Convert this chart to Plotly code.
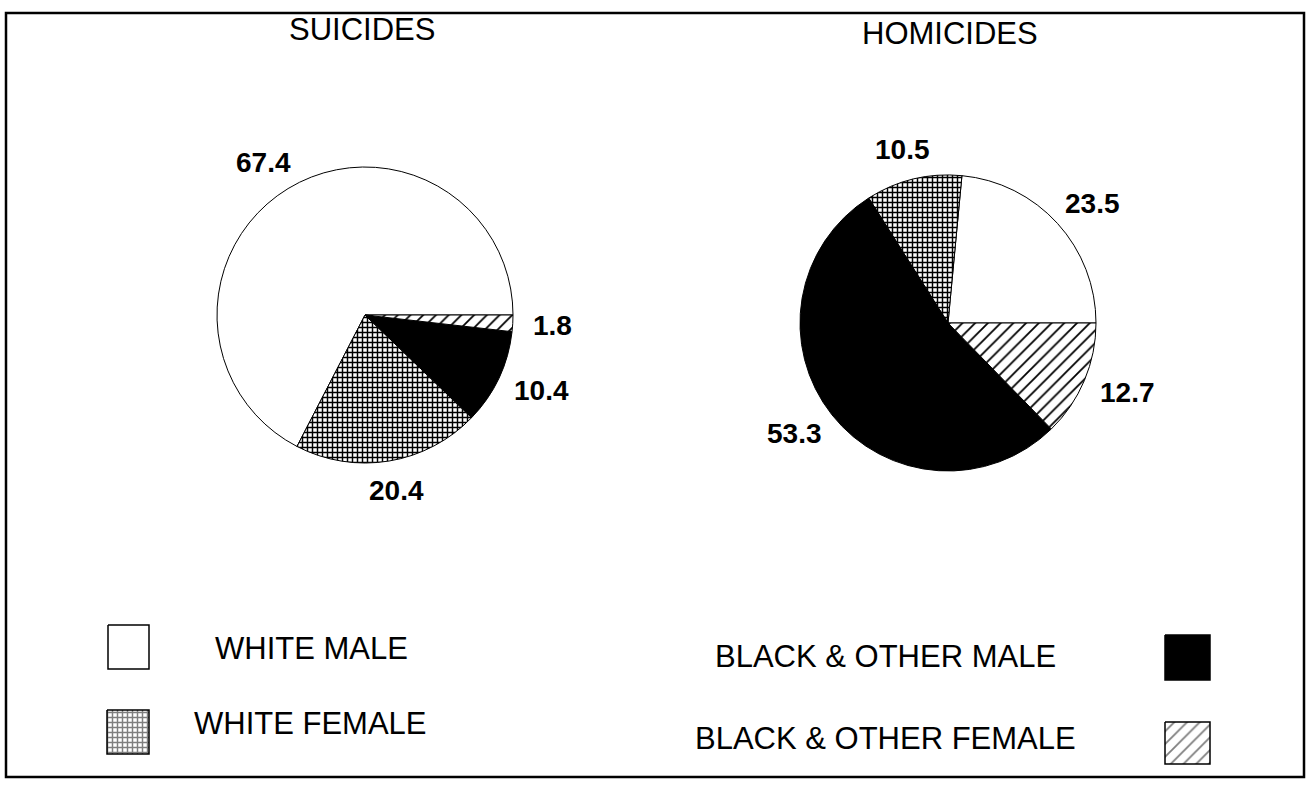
import math
import plotly.graph_objects as go

# ---------------- data ----------------
categories = ["WHITE MALE", "WHITE FEMALE", "BLACK & OTHER MALE", "BLACK & OTHER FEMALE"]
suicides = [67.4, 20.4, 10.4, 1.8]
homicides = [23.5, 10.5, 53.3, 12.7]
panel_titles = ["SUICIDES", "HOMICIDES"]

# ---------------- styles ----------------
W, H = 1309, 788
slice_fill = ["white", "white", "black", "white"]
slice_pattern = ["", "+", "", "/"]
FONT = "Liberation Sans, Arial, Helvetica, sans-serif"

pie_centers = [(365, 315), (948, 323)]
pie_radius = 148
title_pos = [(362, 29), (950, 33)]


def px_x(x):
    return x / W


def px_y(y):
    return 1 - y / H


fig = go.Figure()

# pies: first slice starts at 3 o'clock and slices run counterclockwise
for values, (cx, cy), title, (tx, ty) in zip([suicides, homicides], pie_centers, panel_titles, title_pos):
    total = sum(values)
    # plotly's counterclockwise pies end the first slice at `rotation`,
    # so offset by the first slice's angle to make it start at 3 o'clock
    rot = 90 - 360 * values[0] / total
    if rot < -180:
        rot += 360
    fig.add_trace(go.Pie(
        labels=categories,
        values=values,
        sort=False,
        direction="counterclockwise",
        rotation=rot,
        textinfo="none",
        hoverinfo="label+value",
        showlegend=False,
        marker=dict(
            colors=slice_fill,
            line=dict(color="black", width=1),
            pattern=dict(shape=slice_pattern, fgcolor="black", bgcolor="white",
                         size=[6, 5, 6, 9], solidity=[0.3, 0.5, 0.3, 0.2]),
        ),
        domain=dict(x=[px_x(cx - pie_radius), px_x(cx + pie_radius)],
                    y=[px_y(cy + pie_radius), px_y(cy - pie_radius)]),
    ))
    fig.add_annotation(x=px_x(tx), y=px_y(ty), xref="paper", yref="paper",
                       text=title, showarrow=False, xanchor="center", yanchor="middle",
                       font=dict(family=FONT, size=31, color="black"))

    # value labels outside each slice, placed from the slice mid-angle
    cum = 0.0
    label_size = 28
    gap = 20
    for v in values:
        mid = 2 * math.pi * (cum + v / 2) / total
        cum += v
        ux, uy = math.cos(mid), math.sin(mid)
        txt = f"{v:.1f}"
        hw = 0.5 * label_size * (0.556 * (len(txt) - 1) + 0.278)
        hh = 10
        lx = cx + ux * (pie_radius + gap) + ux * hw
        ly = cy - uy * (pie_radius + gap) - uy * hh
        fig.add_annotation(x=px_x(lx), y=px_y(ly), xref="paper", yref="paper",
                           text=f"<b>{txt}</b>", showarrow=False,
                           xanchor="center", yanchor="middle",
                           font=dict(family=FONT, size=label_size, color="black"))

# legend swatches (drawn in a hidden pixel-space axis so they can carry fill patterns)
legend_boxes = [
    # (x0, x1, y0, y1, fill, pattern)
    (108, 149, 625, 669, "white", ""),
    (107, 149, 710, 754, "white", "+"),
    (1165, 1210, 635, 680, "black", ""),
    (1165, 1210, 722, 764, "white", "/"),
]
legend_text = [
    (311, 648),
    (310, 723),
    (885, 656),
    (885, 738),
]
for (x0, x1, y0, y1, fill, pat), (tx, ty), name in zip(legend_boxes, legend_text, categories):
    fig.add_trace(go.Scatter(
        x=[x0, x1, x1, x0, x0], y=[y0, y0, y1, y1, y0],
        mode="lines", fill="toself", fillcolor=fill,
        fillpattern=dict(shape=pat, fgcolor="black", bgcolor=fill,
                         size=5 if pat == "+" else 9,
                         solidity=0.5 if pat == "+" else 0.2) if pat else None,
        line=dict(color="black", width=1.5),
        hoverinfo="skip", showlegend=False,
    ))
    fig.add_annotation(x=px_x(tx), y=px_y(ty), xref="paper", yref="paper",
                       text=name, showarrow=False, xanchor="center", yanchor="middle",
                       font=dict(family=FONT, size=31, color="black"))

# outer frame
fig.add_shape(type="rect", xref="paper", yref="paper",
              x0=px_x(6), x1=px_x(1304), y0=px_y(777), y1=px_y(13),
              line=dict(color="black", width=2.5), fillcolor="rgba(0,0,0,0)")

fig.update_layout(
    width=W, height=H,
    margin=dict(l=0, r=0, t=0, b=0),
    paper_bgcolor="white", plot_bgcolor="white",
    xaxis=dict(range=[0, W], visible=False, fixedrange=True),
    yaxis=dict(range=[H, 0], visible=False, fixedrange=True),
    showlegend=False,
)

fig.write_html("out.html", config={"displayModeBar": False},
               post_script="document.body.style.margin='0';")
